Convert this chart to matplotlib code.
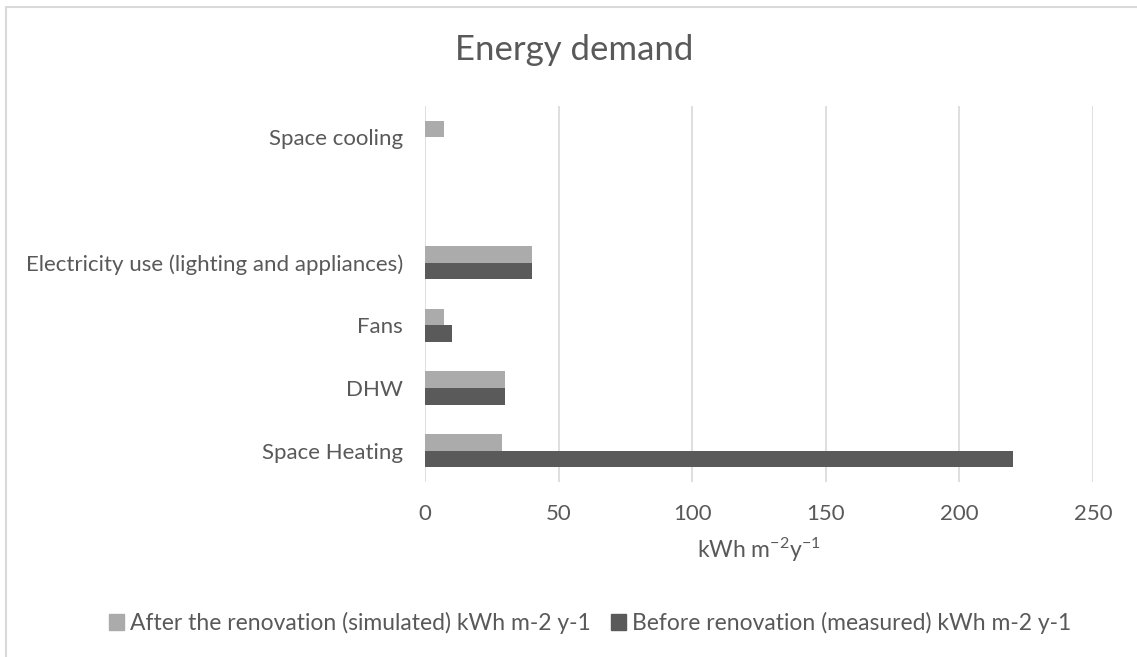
import numpy as np
import matplotlib
matplotlib.use("Agg")
import matplotlib.pyplot as plt
from matplotlib.patches import Patch, Rectangle

plt.rcParams['font.family'] = ['Lato', 'DejaVu Sans']
plt.rcParams['mathtext.fontset'] = 'custom'
plt.rcParams['mathtext.rm'] = 'Lato'
plt.rcParams['mathtext.it'] = 'Lato'

categories = ["Space Heating", "DHW", "Fans",
              "Electricity use (lighting and appliances)", "", "Space cooling"]
after_values = [29, 30, 7, 40, 0, 7]
before_values = [220, 30, 10, 40, 0, 0]
series_names = ["After the renovation (simulated) kWh m-2 y-1",
                "Before renovation (measured) kWh m-2 y-1"]
x_ticks = [0, 50, 100, 150, 200, 250]

text_col = "#595959"
light_col = "#ababab"
dark_col = "#5a5a5a"
grid_col = "#d9d9d9"

W, H = 1137, 657
fig = plt.figure(figsize=(W / 100, H / 100), dpi=100)

# chart frame (runs off the right and bottom edges)
fig.patches.append(Rectangle((6 / W, -0.1), 1.2, 1 - 7 / H + 0.1,
                             transform=fig.transFigure, fill=False,
                             edgecolor="#d9d9d9", linewidth=1.5))

ax = fig.add_axes([425 / W, 1 - 482 / H, (1093 - 425) / W, (482 - 106) / H])

y = np.arange(len(categories))
h = 0.265
ax.barh(y + h / 2, after_values, height=h, color=light_col, zorder=3)
ax.barh(y - h / 2, before_values, height=h, color=dark_col, zorder=3)

ax.set_xlim(0, 250)
ax.set_ylim(-0.5, len(categories) - 0.5)
ax.set_xticks(x_ticks)
ax.set_yticks(y)
ax.set_yticklabels(categories)
ax.tick_params(axis='both', length=0, labelsize=16, colors=text_col)
ax.tick_params(axis='x', pad=16)
ax.tick_params(axis='y', pad=16)
ax.grid(axis='x', color=grid_col, linewidth=1.2, zorder=0)
for s in ax.spines.values():
    s.set_visible(False)

ax.set_xlabel(r'kWh m$^{-2}$y$^{-1}$', fontsize=16.5, color=text_col, labelpad=8)

fig.text(0.505, 1 - 50 / H, "Energy demand", ha='center', va='center',
         fontsize=25, color=text_col)

handles = [Patch(color=light_col), Patch(color=dark_col)]
fig.legend(handles, series_names, loc='center', bbox_to_anchor=(590 / W, 1 - 623 / H),
           ncol=2, frameon=False, fontsize=16.5, labelcolor=text_col,
           handlelength=0.65, handleheight=0.65, handletextpad=0.25,
           columnspacing=0.9)

fig.savefig("out.png", dpi=100)
